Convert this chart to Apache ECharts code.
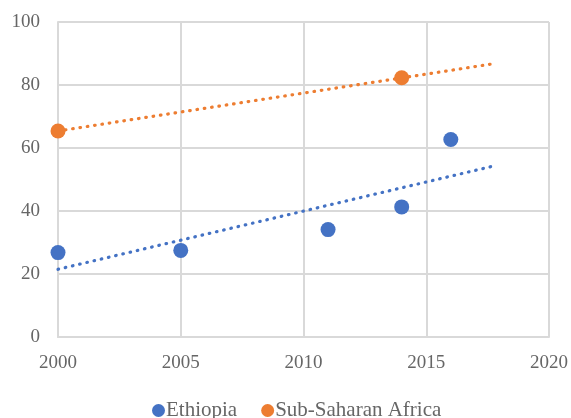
<!DOCTYPE html>
<html>
<head>
<meta charset="utf-8">
<script src="https://cdn.jsdelivr.net/npm/echarts@6/dist/echarts.min.js"></script>
<style>
  html, body { margin: 0; padding: 0; background: #fff; }
  #chart { width: 571px; height: 418px; }
</style>
</head>
<body>
<div id="chart"></div>
<script>
// puntos
const ethYears = [2000, 2005, 2011, 2014, 2016];
const ethValues = [26.8, 27.5, 34.1, 41.3, 62.7];
const ssaYears = [2000, 2014];
const ssaValues = [65.4, 82.3];

// lineas de tendencia (extremos)
const ethTrend = [[2000, 21.5], [2017.7, 54.2]];
const ssaTrend = [[2000, 65.4], [2017.7, 86.7]];

const xTicks = [2000, 2005, 2010, 2015, 2020];
const yTicks = [0, 20, 40, 60, 80, 100];

const blue = '#4472C4';
const orange = '#ED7D31';
const font = '"Liberation Serif", "DejaVu Serif", serif';
const labelColor = '#666666';

const chart = echarts.init(document.getElementById('chart'));

const trendStyle = (color) => ({
    color: color,
    width: 3.2,
    type: [0.6, 6.8],
    cap: 'round'
});

const option = {
    animation: false,
    grid: { left: 58, right: 22, top: 22, bottom: 81 },
    legend: {
        bottom: -8,
        left: 147,
        itemWidth: 13,
        itemHeight: 13,
        itemGap: 24,
        data: [
            { name: 'Ethiopia', icon: 'circle' },
            { name: 'Sub-Saharan Africa', icon: 'circle' }
        ],
        textStyle: { fontFamily: font, fontSize: 21, color: labelColor, padding: [0, 0, 0, -4] }
    },
    xAxis: {
        type: 'value',
        min: xTicks[0],
        max: xTicks[xTicks.length - 1],
        interval: 5,
        axisLine: { show: true, lineStyle: { color: '#d9d9d9', width: 2 } },
        axisTick: { show: false },
        splitLine: { lineStyle: { color: '#d9d9d9', width: 2 } },
        axisLabel: {
            fontFamily: font, fontSize: 19, color: labelColor, margin: 17,
            formatter: (v) => String(v)
        }
    },
    yAxis: {
        type: 'value',
        min: yTicks[0],
        max: yTicks[yTicks.length - 1],
        interval: 20,
        axisLine: { show: true, lineStyle: { color: '#d9d9d9', width: 2 } },
        axisTick: { show: false },
        splitLine: { lineStyle: { color: '#d9d9d9', width: 2 } },
        axisLabel: { fontFamily: font, fontSize: 19, color: labelColor, margin: 18 }
    },
    series: [
        {
            name: 'Ethiopia-trend',
            type: 'line',
            data: ethTrend,
            symbol: 'none',
            lineStyle: trendStyle(blue),
            z: 3
        },
        {
            name: 'Sub-Saharan Africa-trend',
            type: 'line',
            data: ssaTrend,
            symbol: 'none',
            lineStyle: trendStyle(orange),
            z: 3
        },
        {
            name: 'Ethiopia',
            type: 'scatter',
            data: ethYears.map((y, i) => [y, ethValues[i]]),
            symbolSize: 15,
            itemStyle: { color: blue, opacity: 1 },
            z: 5
        },
        {
            name: 'Sub-Saharan Africa',
            type: 'scatter',
            data: ssaYears.map((y, i) => [y, ssaValues[i]]),
            symbolSize: 15,
            itemStyle: { color: orange, opacity: 1 },
            z: 5
        }
    ]
};

chart.setOption(option);
</script>
</body>
</html>
